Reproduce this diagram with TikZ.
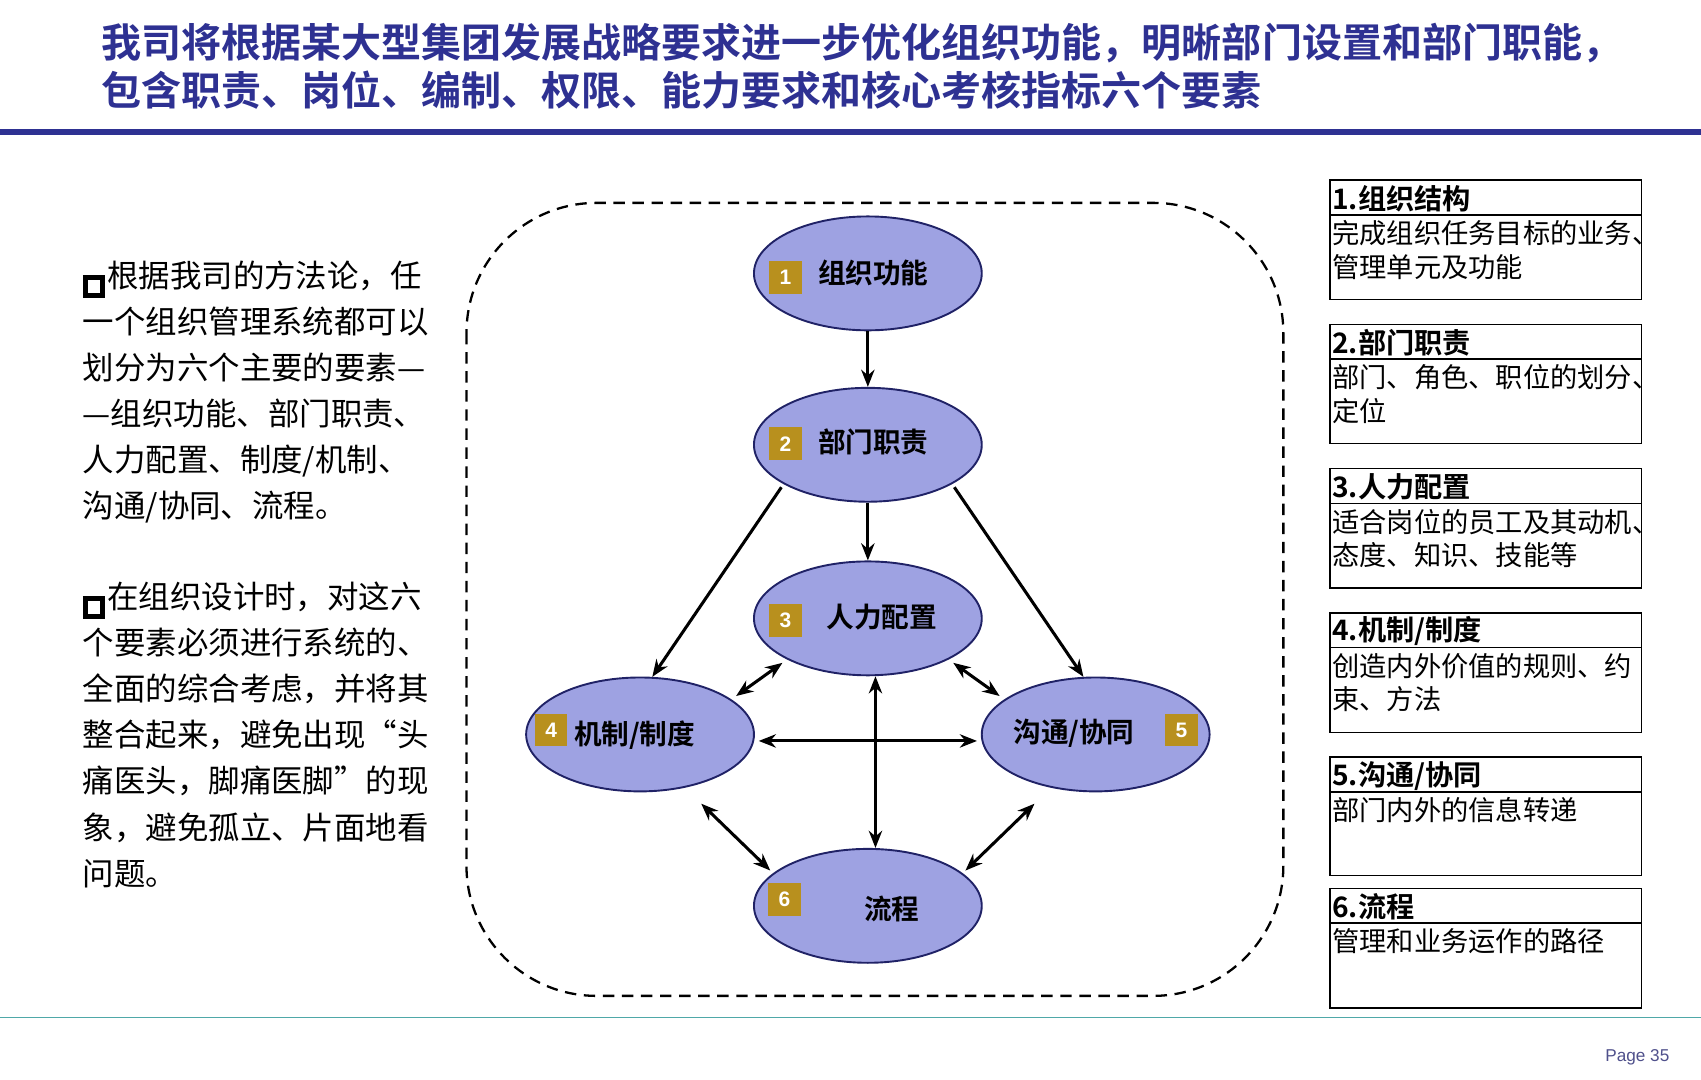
\documentclass[tikz,border=0pt]{standalone}
\usepackage{fontspec}
\setmainfont{Noto Sans CJK SC}[BoldFont=* Bold]
\newfontfamily\lat{Liberation Sans}
\usetikzlibrary{shapes.geometric,arrows.meta}
\definecolor{navy}{HTML}{2E3192}
\definecolor{lav}{HTML}{9EA2E2}
\definecolor{gold}{HTML}{B8901E}
\definecolor{teal}{HTML}{4FA8A8}
\newcommand{\sqbx}{{\setlength\fboxrule{2.6pt}\setlength\fboxsep{3.3pt}\raisebox{0.5pt}{\fbox{\rule{0pt}{0pt}}}\hspace{1pt}}}
\begin{document}
\begin{tikzpicture}[x=0.02cm,y=-0.02cm,
  ell/.style={ellipse,draw=navy!70!black,line width=1pt,fill=lav,minimum width=210*0.02cm,minimum height=105*0.02cm},
  num/.style={fill=gold,text=white,font=\lat\bfseries\fontsize{11}{12}\selectfont,minimum size=30*0.02cm,inner sep=0},
  lbl/.style={font=\bfseries\fontsize{14.5}{16}\selectfont},
  arr/.style={-{Stealth[length=9pt,width=7pt]},line width=1.6pt},
  darr/.style={{Stealth[length=9pt,width=7pt]}-{Stealth[length=9pt,width=7pt]},line width=1.6pt},
  bx/.style={draw,line width=0.8pt},
  bh/.style={anchor=west,inner sep=1pt,font=\bfseries\fontsize{14.8}{16}\selectfont},
  bb/.style={anchor=north west,inner sep=1pt,align=left,font=\fontsize{14.3}{17.6}\selectfont},
  lt/.style={anchor=north west,align=left,inner sep=0,font=\fontsize{16.5}{24.2}\selectfont}]
\useasboundingbox (0,0) rectangle (1568,995);
% title
\node[anchor=west,text=navy,font=\bfseries\fontsize{21}{22}\selectfont,inner sep=0] (t1) at (93,40) {我司将根据某大型集团发展战略要求进一步优化组织功能，明晰部门设置和部门职能，};
\node[anchor=west,text=navy,font=\bfseries\fontsize{21}{22}\selectfont,inner sep=0] (t2) at (93,83) {包含职责、岗位、编制、权限、能力要求和核心考核指标六个要素};
\draw[navy,line width=3pt] (0,122) -- (1568,122);
\draw[teal,line width=0.8pt] (0,938) -- (1568,938);
\node[anchor=east,text=navy!60!gray,font=\lat\fontsize{9}{10}\selectfont] (pg) at (1545,975) {Page 35};
% left text
\node[lt] (lt1) at (76,240) {\sqbx 根据我司的方法论，任\\一个组织管理系统都可以\\划分为六个主要的要素—\\—组织功能、部门职责、\\人力配置、制度/机制、\\沟通/协同、流程。};
\node[lt] (lt2) at (76,536) {\sqbx 在组织设计时，对这六\\个要素必须进行系统的、\\全面的综合考虑，并将其\\整合起来，避免出现“头\\痛医头，脚痛医脚”的现\\象，避免孤立、片面地看\\问题。};
% dashed frame
\draw[dash pattern=on 6pt off 4pt,line width=1.2pt,rounded corners=120*0.02cm] (430,187) rectangle (1183,918);
% ellipses
\node[ell] (e1) at (800,252) {};
\node[ell] (e2) at (800,410) {};
\node[ell] (e3) at (800,570) {};
\node[ell] (e4) at (590,677) {};
\node[ell] (e5) at (1010,677) {};
\node[ell] (e6) at (800,835) {};
\node[num] (n1) at (724,256) {1}; \node[lbl] (l1) at (805,252) {组织功能};
\node[num] (n2) at (724,409) {2}; \node[lbl] (l2) at (805,407) {部门职责};
\node[num] (n3) at (724,572) {3}; \node[lbl] (l3) at (813,569) {人力配置};
\node[num] (n4) at (508,673) {4}; \node[lbl] (l4) at (585,678) {机制/制度};
\node[num] (n5) at (1089,673) {5}; \node[lbl] (l5) at (990,676) {沟通/协同};
\node[num] (n6) at (723,829) {6}; \node[lbl] (l6) at (822,838) {流程};
% connectors
\draw[arr] (e1.south) -- (e2.north);
\draw[arr] (e2.south) -- (e3.north);
\draw[arr,shorten <=2pt] (e2.205) -- (e4.78);
\draw[arr,shorten <=2pt] (e2.-25) -- (e5.102);
\draw[darr,shorten <=3pt,shorten >=3pt] (e3.207) -- (e4.21);
\draw[darr,shorten <=3pt,shorten >=3pt] (e3.-27) -- (e5.159);
\draw[darr,shorten <=2pt,shorten >=2pt] ([yshift=-6*0.02cm]e4.east) -- ([yshift=-6*0.02cm]e5.west);
\draw[darr] ([xshift=7*0.02cm]e3.south) -- ([xshift=7*0.02cm]e6.north);
\draw[darr,shorten <=12pt,shorten >=2pt] (e4.-50) -- (e6.161);
\draw[darr,shorten <=12pt,shorten >=2pt] (e5.230) -- (e6.19);
% right boxes
\foreach \i/\y/\h/\ta/\tb in {1/166/110/{1.组织结构}/{完成组织任务目标的业务、\\管理单元及功能},
  2/299/110/{2.部门职责}/{部门、角色、职位的划分、\\定位},
  3/432/110/{3.人力配置}/{适合岗位的员工及其动机、\\态度、知识、技能等},
  4/565/110/{4.机制/制度}/{创造内外价值的规则、约\\束、方法},
  5/698/109/{5.沟通/协同}/{部门内外的信息转递},
  6/819/110/{6.流程}/{管理和业务运作的路径}}{
  \draw[bx] (1226,\y) rectangle (1513,\y+\h);
  \draw[bx] (1226,\y+32) -- (1513,\y+32);
  \node[bh] (bh\i) at (1226,\y+17) {\ta};
  \node[bb] (bb\i) at (1226,\y+35) {\tb};
}
\end{tikzpicture}
\end{document}
